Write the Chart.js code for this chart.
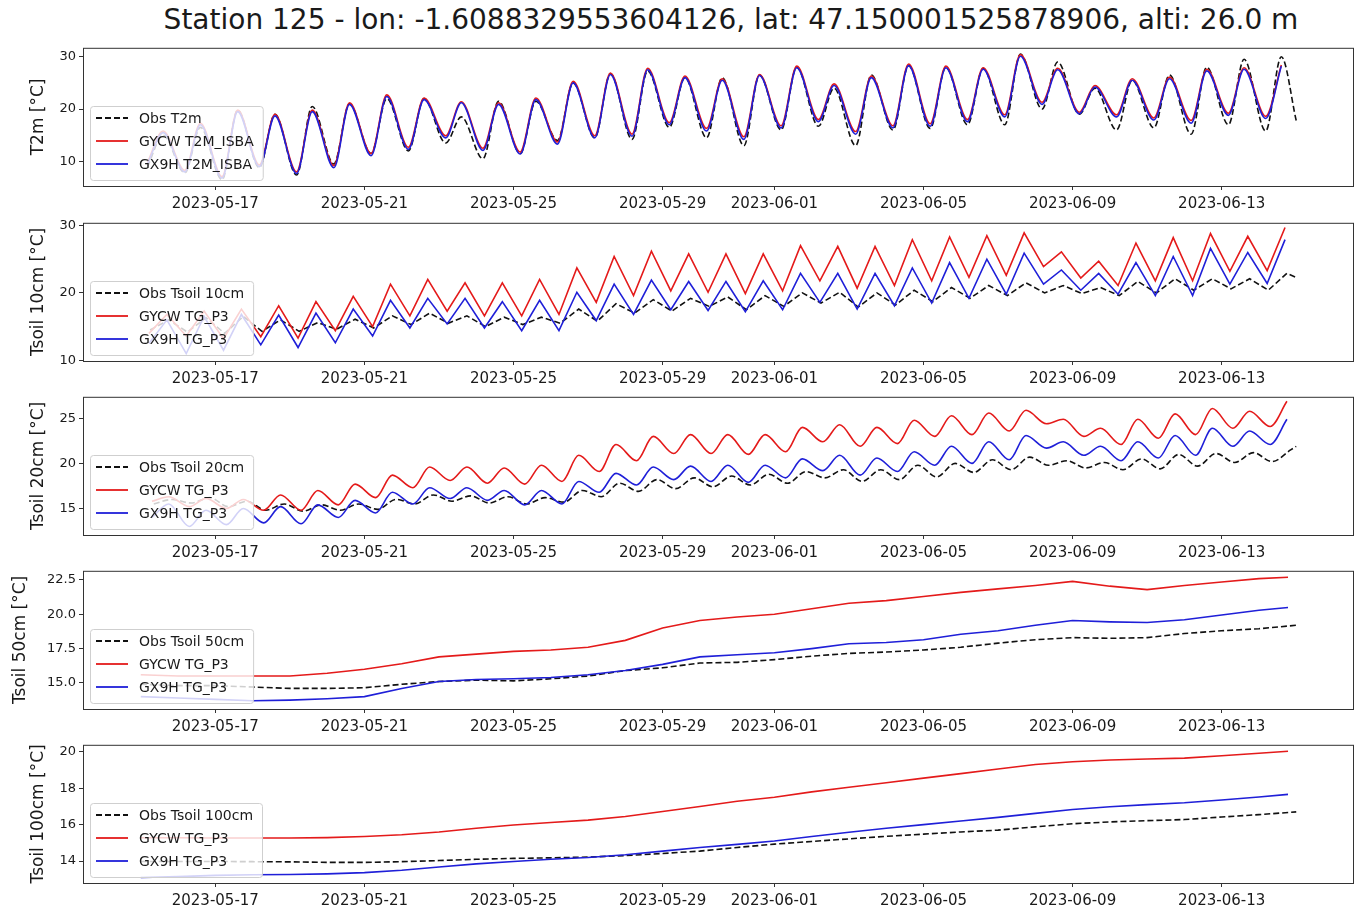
<!DOCTYPE html>
<html>
<head>
<meta charset="utf-8">
<script src="https://cdn.jsdelivr.net/npm/chart.js@4.4.0/dist/chart.umd.min.js"></script>
<style>
  body { margin: 0; background: #fff; width: 1364px; height: 909px; position: relative; overflow: hidden;
         font-family: "DejaVu Sans", sans-serif; }
  #title { position: absolute; left: 0; width: 1462px; top: 4px; line-height: 32px; text-align: center;
           font-size: 28px; color: #1a1a1a; white-space: nowrap; }
  canvas { position: absolute; left: 0; }
</style>
</head>
<body>
<div id="title">Station 125 - lon: -1.6088329553604126, lat: 47.150001525878906, alti: 26.0 m</div>
<canvas id="p0"></canvas>
<canvas id="p1"></canvas>
<canvas id="p2"></canvas>
<canvas id="p3"></canvas>
<canvas id="p4"></canvas>
<script>
// days are counted in May 2023 (June 1 = 32)
var cycleDays = Array.from({length: 31}, function(_, i) { return 15 + i; });       // May 15 .. June 14
var obsDays = Array.from({length: 32}, function(_, i) { return 15 + i; });         // May 15 .. June 15
var modelDays = cycleDays.concat([45.78]);                                          // runs stop late June 14
var dateTicks = [17, 21, 25, 29, 32, 36, 40, 44];

// 2 m temperature, daily min / max
var t2mObsMin  = [9.0, 7.8, 6.5, 8.8, 7.4, 9.5, 11.5, 12.0, 13.5, 10.5, 11.5, 14.0, 14.5, 14.2, 16.5, 14.5, 13.0, 16.0, 16.7, 13.0, 16.0, 16.3, 17.0, 17.0, 20.0, 19.0, 16.0, 16.4, 15.2, 17.0, 15.8];
var t2mObsMax  = [15.0, 16.5, 19.8, 19.0, 20.5, 21.0, 22.0, 22.0, 18.5, 21.5, 21.5, 25.0, 26.8, 27.3, 26.0, 26.0, 26.5, 28.0, 24.0, 26.5, 28.3, 28.0, 27.8, 30.5, 29.0, 24.0, 25.5, 26.5, 28.0, 29.5, 30.0];
var t2mObsEnd  = 17.8;
var t2mGycwMin = [9.8, 8.3, 7.1, 9.3, 8.0, 9.2, 11.5, 12.7, 14.9, 12.5, 11.8, 13.7, 14.9, 15.2, 17.4, 16.3, 14.7, 16.8, 18.0, 15.7, 16.8, 17.2, 18.0, 18.9, 21.3, 19.4, 18.9, 18.3, 17.8, 19.2, 18.6];
var t2mGycwMax = [15.8, 17.3, 19.8, 19.0, 19.8, 21.2, 22.7, 22.1, 21.4, 21.2, 22.1, 25.3, 26.9, 27.8, 26.3, 25.8, 26.6, 28.2, 24.8, 26.3, 28.6, 28.2, 27.9, 30.4, 27.8, 24.5, 25.8, 26.1, 27.6, 27.9, 28.4];
var t2mGx9hMin = [9.5, 8.0, 6.8, 9.0, 7.7, 8.8, 11.1, 12.3, 14.5, 12.1, 11.4, 13.3, 14.5, 14.8, 17.0, 15.8, 14.2, 16.4, 17.6, 15.2, 16.4, 16.7, 17.6, 18.5, 20.9, 19.1, 18.5, 17.9, 17.3, 18.8, 18.2];
var t2mGx9hMax = [15.5, 17.0, 19.5, 18.7, 19.5, 20.9, 22.4, 21.8, 21.2, 20.9, 21.8, 25.0, 26.6, 27.5, 26.0, 25.5, 26.4, 27.9, 24.5, 26.0, 28.3, 27.9, 27.6, 30.1, 27.5, 24.2, 25.5, 25.8, 27.3, 27.6, 28.2];

// soil temperature 10 cm, daily min / max
var ts10ObsMin  = [14.5, 14.2, 14.0, 14.3, 14.3, 14.6, 14.8, 15.3, 15.5, 15.0, 15.3, 15.5, 15.8, 17.0, 17.3, 18.0, 17.5, 18.0, 18.5, 17.9, 18.2, 18.7, 19.2, 19.6, 20.0, 19.9, 19.6, 20.0, 20.4, 20.6, 20.4];
var ts10ObsMax  = [16.0, 16.3, 16.5, 16.0, 15.6, 16.1, 16.6, 17.0, 16.6, 16.4, 16.4, 17.6, 18.4, 19.0, 19.2, 19.4, 19.6, 20.0, 20.1, 20.0, 20.4, 20.8, 21.1, 21.5, 21.1, 20.8, 21.7, 22.1, 22.1, 22.1, 22.9];
var ts10ObsEnd  = 22.3;
var ts10GycwMin = [14.0, 13.6, 13.2, 13.5, 13.3, 14.4, 15.0, 16.6, 17.3, 16.6, 16.6, 16.8, 18.6, 19.6, 20.3, 20.1, 19.9, 20.3, 21.8, 20.7, 21.1, 21.8, 22.3, 22.6, 23.9, 22.2, 21.1, 21.8, 21.8, 23.2, 23.3];
var ts10GycwMax = [16.8, 17.3, 17.6, 18.1, 18.7, 19.5, 21.3, 22.0, 21.5, 21.5, 22.0, 23.7, 25.4, 26.2, 25.8, 25.8, 25.8, 27.0, 26.9, 26.9, 27.9, 28.3, 28.5, 28.9, 26.1, 24.7, 27.4, 28.2, 28.8, 28.4, 29.7];
var ts10Gx9hMin = [12.5, 11.0, 11.5, 12.3, 11.9, 12.6, 13.6, 14.8, 15.4, 14.8, 14.4, 14.4, 15.9, 16.8, 17.5, 17.4, 17.2, 17.5, 18.6, 17.6, 18.1, 18.5, 19.2, 19.8, 21.3, 20.4, 19.8, 19.6, 19.6, 21.3, 21.4];
var ts10Gx9hMax = [16.0, 16.5, 16.8, 16.7, 17.0, 17.6, 18.9, 19.2, 19.2, 18.7, 18.9, 20.1, 21.3, 21.9, 21.7, 21.7, 21.8, 22.9, 22.9, 22.9, 23.7, 24.5, 25.0, 25.9, 23.4, 22.9, 24.5, 25.4, 26.6, 26.0, 27.9];

// soil temperature 20 cm, daily min / max
var ts20ObsMin  = [15.5, 15.6, 15.2, 14.8, 14.7, 14.8, 14.9, 15.5, 15.8, 15.6, 15.5, 15.7, 16.3, 16.9, 17.2, 17.4, 17.6, 17.8, 18.4, 18.0, 18.2, 18.5, 19.0, 19.3, 19.8, 19.5, 19.3, 19.4, 19.7, 20.1, 20.2];
var ts20ObsMax  = [16.0, 16.2, 15.8, 15.5, 15.4, 15.5, 16.0, 16.5, 16.4, 16.3, 16.2, 17.0, 17.8, 18.2, 18.4, 18.6, 18.8, 19.1, 19.3, 19.3, 19.8, 20.0, 20.4, 20.7, 20.3, 20.1, 20.5, 21.0, 21.1, 21.2, 21.5];
var ts20ObsEnd  = 21.9;
var ts20GycwMin = [15.8, 15.2, 15.0, 14.8, 14.8, 15.4, 16.2, 17.3, 18.1, 17.8, 17.7, 18.0, 19.1, 20.3, 21.1, 21.1, 21.0, 21.3, 22.4, 21.9, 22.2, 23.0, 23.2, 23.6, 24.4, 23.0, 22.1, 22.8, 23.2, 23.9, 24.1];
var ts20GycwMax = [16.3, 16.1, 16.0, 16.5, 17.0, 17.7, 18.7, 19.6, 19.6, 19.5, 19.8, 20.9, 22.1, 23.0, 23.2, 23.2, 23.2, 24.0, 24.3, 24.0, 24.8, 25.3, 25.6, 25.9, 24.9, 23.9, 24.9, 25.5, 26.1, 25.8, 26.9];
var ts20Gx9hMin = [14.0, 13.0, 13.2, 13.4, 13.3, 14.0, 14.5, 15.5, 16.1, 15.9, 15.4, 15.5, 16.8, 17.6, 18.2, 18.0, 17.9, 18.4, 19.2, 18.7, 19.1, 19.8, 20.0, 20.4, 21.7, 20.9, 20.3, 20.6, 20.9, 21.9, 22.1];
var ts20Gx9hMax = [15.5, 14.8, 15.0, 15.2, 15.4, 15.9, 16.8, 17.3, 17.3, 17.0, 17.0, 18.0, 18.9, 19.6, 19.7, 19.8, 19.8, 20.5, 20.9, 20.6, 21.3, 21.9, 22.4, 23.1, 22.4, 21.9, 22.4, 23.1, 23.9, 23.6, 24.9];

// soil temperature 50 cm, one value per day
var ts50Obs  = [14.9, 14.8, 14.8, 14.7, 14.6, 14.6, 14.65, 14.9, 15.1, 15.2, 15.15, 15.3, 15.5, 15.9, 16.1, 16.45, 16.5, 16.7, 16.95, 17.15, 17.25, 17.4, 17.6, 17.9, 18.15, 18.3, 18.25, 18.3, 18.6, 18.8, 18.95, 19.2];
var ts50Gycw = [15.6, 15.5, 15.5, 15.5, 15.5, 15.7, 16.0, 16.4, 16.9, 17.1, 17.3, 17.4, 17.6, 18.1, 19.0, 19.55, 19.8, 20.0, 20.4, 20.8, 21.0, 21.3, 21.6, 21.85, 22.1, 22.4, 22.05, 21.8, 22.1, 22.35, 22.6, 22.7];
var ts50Gx9h = [14.0, 13.9, 13.8, 13.7, 13.75, 13.85, 14.0, 14.6, 15.1, 15.25, 15.3, 15.4, 15.6, 15.9, 16.35, 16.9, 17.05, 17.2, 17.5, 17.85, 17.95, 18.15, 18.55, 18.8, 19.2, 19.55, 19.45, 19.4, 19.6, 19.95, 20.3, 20.5];

// soil temperature 100 cm, one value per day
var ts100Obs  = [13.98, 13.98, 13.98, 13.97, 13.96, 13.93, 13.93, 13.97, 14.03, 14.1, 14.15, 14.18, 14.22, 14.3, 14.42, 14.55, 14.75, 14.93, 15.08, 15.22, 15.36, 15.48, 15.6, 15.7, 15.88, 16.05, 16.15, 16.22, 16.28, 16.42, 16.55, 16.7];
var ts100Gycw = [15.28, 15.28, 15.27, 15.27, 15.27, 15.29, 15.35, 15.45, 15.6, 15.8, 15.98, 16.12, 16.25, 16.45, 16.72, 17.0, 17.28, 17.5, 17.8, 18.05, 18.3, 18.55, 18.8, 19.05, 19.3, 19.45, 19.55, 19.6, 19.65, 19.78, 19.92, 20.03];
var ts100Gx9h = [13.1, 13.15, 13.22, 13.25, 13.27, 13.3, 13.37, 13.5, 13.68, 13.85, 13.98, 14.1, 14.2, 14.35, 14.55, 14.75, 14.92, 15.1, 15.35, 15.58, 15.8, 16.0, 16.2, 16.4, 16.62, 16.83, 16.98, 17.1, 17.2, 17.35, 17.52, 17.66];

var FONT = '"DejaVu Sans", sans-serif';
var OBS_COLOR = '#111111', GYCW_COLOR = '#e41a1a', GX9H_COLOR = '#1f1fd8';

// one point at the daily minimum and one at the daily maximum
function dailyCycle(mins, maxs, minPhase, maxPhase, endValue) {
    var pts = [];
    for (var i = 0; i < cycleDays.length; i++) {
        pts.push({x: cycleDays[i] + minPhase, y: mins[i]});
        pts.push({x: cycleDays[i] + maxPhase, y: maxs[i]});
    }
    if (endValue !== undefined) pts.push({x: 46, y: endValue});
    return pts;
}

function daily(values, days) {
    return values.map(function(v, i) { return {x: days[i], y: v}; });
}

function dayLabel(d) {
    var june = d > 31;
    var dd = june ? d - 31 : d;
    return '2023-' + (june ? '06' : '05') + '-' + String(dd).padStart(2, '0');
}

var panels = [
    { top: 41, yLabel: 'T2m [°C]', yMin: 5.3, yMax: 31.7, yTicks: [10, 20, 30], dec: 0, padLeft: 24, smooth: true,
      names: ['Obs T2m', 'GYCW T2M_ISBA', 'GX9H T2M_ISBA'],
      obs: dailyCycle(t2mObsMin, t2mObsMax, 0.18, 0.6, t2mObsEnd),
      gycw: dailyCycle(t2mGycwMin, t2mGycwMax, 0.18, 0.6),
      gx9h: dailyCycle(t2mGx9hMin, t2mGx9hMax, 0.18, 0.6) },
    { top: 216, yLabel: 'Tsoil 10cm [°C]', yMin: 9.9, yMax: 30.4, yTicks: [10, 20, 30], dec: 0, padLeft: 24, smooth: false,
      names: ['Obs Tsoil 10cm', 'GYCW TG_P3', 'GX9H TG_P3'],
      obs: dailyCycle(ts10ObsMin, ts10ObsMax, 0.25, 0.75, ts10ObsEnd),
      gycw: dailyCycle(ts10GycwMin, ts10GycwMax, 0.22, 0.7),
      gx9h: dailyCycle(ts10Gx9hMin, ts10Gx9hMax, 0.22, 0.7) },
    { top: 390, yLabel: 'Tsoil 20cm [°C]', yMin: 12.05, yMax: 27.4, yTicks: [15, 20, 25], dec: 0, padLeft: 24, smooth: true,
      names: ['Obs Tsoil 20cm', 'GYCW TG_P3', 'GX9H TG_P3'],
      obs: dailyCycle(ts20ObsMin, ts20ObsMax, 0.35, 0.85, ts20ObsEnd),
      gycw: dailyCycle(ts20GycwMin, ts20GycwMax, 0.3, 0.75),
      gx9h: dailyCycle(ts20Gx9hMin, ts20Gx9hMax, 0.3, 0.75) },
    { top: 564, yLabel: 'Tsoil 50cm [°C]', yMin: 13.1, yMax: 23.17, yTicks: [15, 17.5, 20, 22.5], dec: 1, padLeft: 6, smooth: false,
      names: ['Obs Tsoil 50cm', 'GYCW TG_P3', 'GX9H TG_P3'],
      obs: daily(ts50Obs, obsDays), gycw: daily(ts50Gycw, modelDays), gx9h: daily(ts50Gx9h, modelDays) },
    { top: 738, yLabel: 'Tsoil 100cm [°C]', yMin: 12.8, yMax: 20.38, yTicks: [14, 16, 18, 20], dec: 0, padLeft: 24, smooth: false,
      names: ['Obs Tsoil 100cm', 'GYCW TG_P3', 'GX9H TG_P3'],
      obs: daily(ts100Obs, obsDays), gycw: daily(ts100Gycw, modelDays), gx9h: daily(ts100Gx9h, modelDays) }
];

var PAD_TOP = 4, PLOT_H = 145, XAXIS_H = 30, PLOT_LEFT = 83, PLOT_RIGHT = 1354;

// legend box in the lower-left corner, drawn the way matplotlib does it
var boxLegend = {
    id: 'boxLegend',
    afterDatasetsDraw: function(chart, args, opts) {
        var ctx = chart.ctx, area = chart.chartArea;
        var items = chart.data.datasets.slice().reverse();
        ctx.save();
        ctx.font = '14px ' + FONT;
        var textW = Math.max.apply(null, items.map(function(it) { return ctx.measureText(it.label).width; }));
        var w = 49 + textW + 9, h = 74;
        var x = area.left + 7, y = area.bottom - 6 - h;
        ctx.fillStyle = 'rgba(255,255,255,0.8)';
        ctx.strokeStyle = '#cfcfcf';
        ctx.lineWidth = 1;
        ctx.beginPath();
        ctx.roundRect(x + 0.5, y + 0.5, w, h, 3);
        ctx.fill();
        ctx.stroke();
        items.forEach(function(it, i) {
            var ry = y + 12 + i * 23;
            ctx.strokeStyle = it.borderColor;
            ctx.lineWidth = 1.8;
            ctx.setLineDash(it.borderDash || []);
            ctx.beginPath();
            ctx.moveTo(x + 6, ry);
            ctx.lineTo(x + 38, ry);
            ctx.stroke();
            ctx.setLineDash([]);
            ctx.fillStyle = '#1a1a1a';
            ctx.textBaseline = 'middle';
            ctx.fillText(it.label, x + 49, ry + 1);
        });
        ctx.restore();
    }
};

// four-sided axes frame
var frame = {
    id: 'frame',
    afterDraw: function(chart) {
        var ctx = chart.ctx, a = chart.chartArea;
        ctx.save();
        ctx.strokeStyle = '#333';
        ctx.lineWidth = 1;
        ctx.strokeRect(a.left + 0.5, a.top + 0.5, a.right - a.left - 1, a.bottom - a.top);
        ctx.restore();
    }
};

panels.forEach(function(p, k) {
    var canvas = document.getElementById('p' + k);
    canvas.width = 1364;
    canvas.height = PAD_TOP + PLOT_H + XAXIS_H;
    canvas.style.top = (p.top - PAD_TOP) + 'px';

    var line = function(label, data, color, dash) {
        return {
            label: label, data: data, borderColor: color, borderWidth: 1.6,
            borderDash: dash, pointRadius: 0, fill: false,
            cubicInterpolationMode: p.smooth ? 'monotone' : 'default', tension: 0
        };
    };

    new Chart(canvas, {
        type: 'line',
        data: {
            // first dataset is painted last, so GX9H ends up on top
            datasets: [
                line(p.names[2], p.gx9h, GX9H_COLOR),
                line(p.names[1], p.gycw, GYCW_COLOR),
                line(p.names[0], p.obs, OBS_COLOR, [6, 3])
            ]
        },
        options: {
            responsive: false,
            animation: false,
            devicePixelRatio: 1,
            events: [],
            layout: { padding: { top: PAD_TOP, left: p.padLeft, right: 1364 - PLOT_RIGHT, bottom: 0 } },
            plugins: { legend: { display: false }, tooltip: { enabled: false } },
            scales: {
                x: {
                    type: 'linear', min: 13.45, max: 47.55,
                    afterBuildTicks: function(scale) { scale.ticks = dateTicks.map(function(v) { return {value: v}; }); },
                    afterFit: function(scale) { scale.height = XAXIS_H; },
                    border: { display: false },
                    grid: { drawOnChartArea: false, drawTicks: true, tickLength: 4, color: '#333' },
                    ticks: { autoSkip: false, maxRotation: 0, padding: 5, color: '#1a1a1a',
                             font: { family: FONT, size: 15 }, callback: function(v) { return dayLabel(v); } }
                },
                y: {
                    min: p.yMin, max: p.yMax,
                    afterBuildTicks: function(scale) { scale.ticks = p.yTicks.map(function(v) { return {value: v}; }); },
                    afterFit: function(scale) { scale.width = PLOT_LEFT - p.padLeft; },
                    border: { display: false },
                    grid: { drawOnChartArea: false, drawTicks: true, tickLength: 4, color: '#333' },
                    ticks: { padding: 3, color: '#1a1a1a', font: { family: FONT, size: 13 },
                             callback: function(v) { return v.toFixed(p.dec); } },
                    title: { display: true, text: p.yLabel, color: '#1a1a1a', padding: { top: 4, bottom: 4 },
                             font: { family: FONT, size: 17 } }
                }
            }
        },
        plugins: [boxLegend, frame]
    });
});
</script>
</body>
</html>
